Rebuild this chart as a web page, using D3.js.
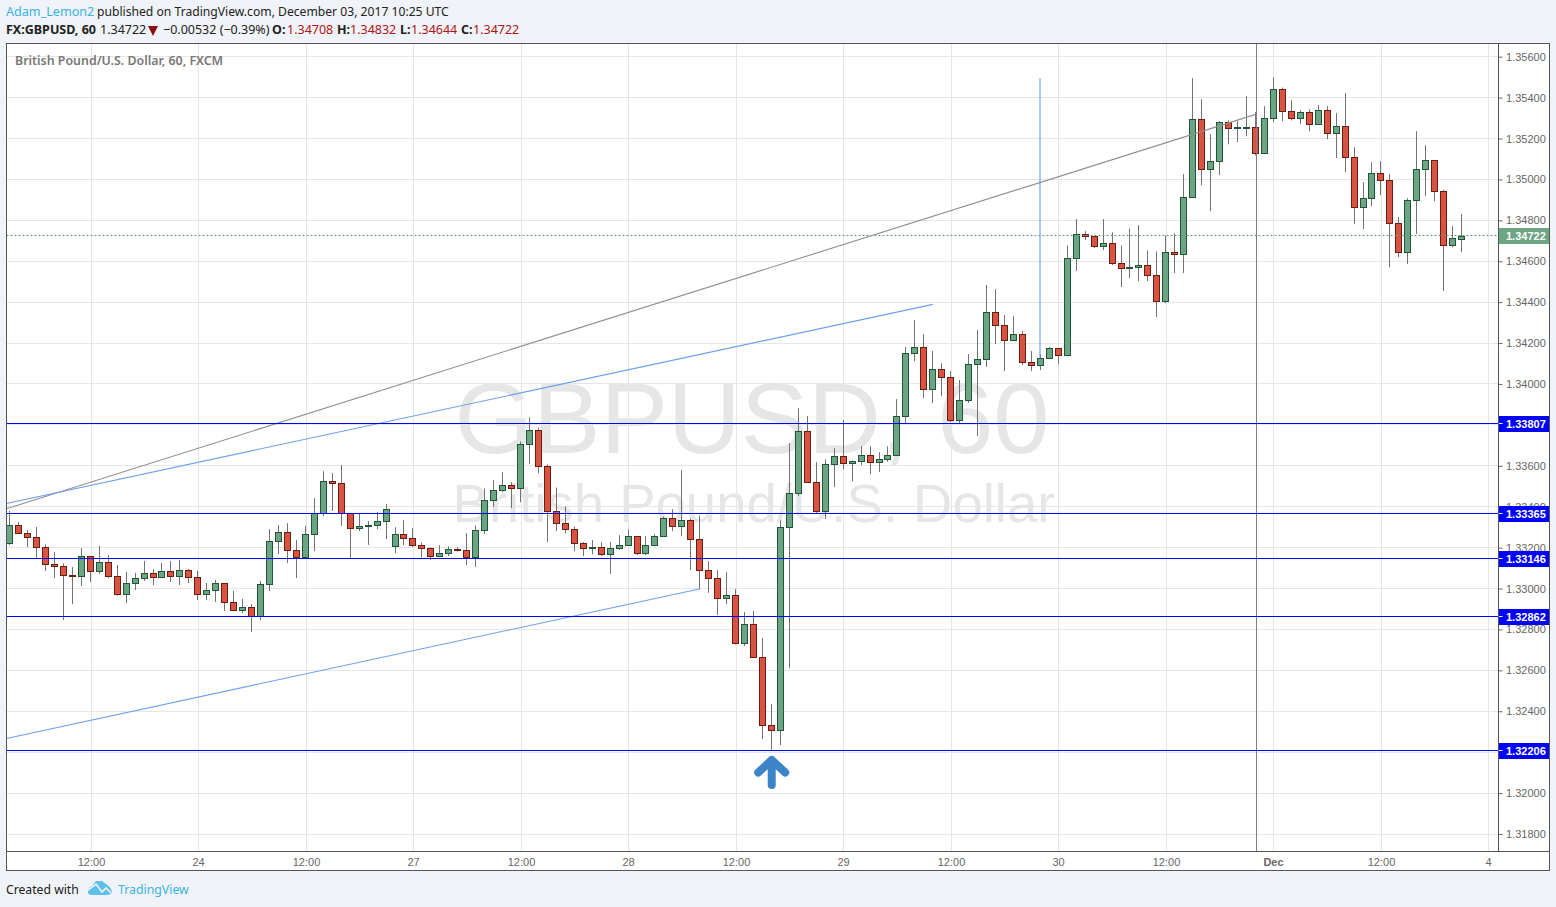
<!DOCTYPE html>
<html><head><meta charset="utf-8">
<script src="https://cdnjs.cloudflare.com/ajax/libs/d3/7.8.5/d3.min.js"></script>
<style>html,body{margin:0;padding:0;background:#f0f3f7;overflow:hidden}svg{display:block}text{font-family:"Liberation Sans",Arial,sans-serif}</style>
</head><body><svg id="c" width="1556" height="907"></svg>
<script>
const highs=[1.33379,1.33325,1.33286,1.33301,1.33216,1.33179,1.33123,1.33105,1.33198,1.33157,
1.33208,1.33164,1.33115,1.33081,1.33076,1.33135,1.33095,1.33125,1.33135,1.33139,
1.33095,1.33086,1.33027,1.33042,1.33025,1.32988,1.32949,1.32924,1.33037,1.33291,
1.33310,1.33320,1.33237,1.33306,1.33442,1.33574,1.33565,1.33604,1.33367,1.33367,
1.33330,1.33374,1.33413,1.33300,1.33334,1.33295,1.33224,1.33201,1.33212,1.33207,
1.33202,1.33271,1.33308,1.33489,1.33530,1.33569,1.33520,1.33719,1.33836,1.33787,
1.33606,1.33494,1.33401,1.33303,1.33227,1.33237,1.33227,1.33227,1.33261,1.33290,
1.33255,1.33256,1.33266,1.33352,1.33388,1.33579,1.33343,1.33357,1.33134,1.33090,
1.33080,1.32997,1.32885,1.32890,1.32758,1.32435,1.33333,1.33711,1.33882,1.33843,
1.33618,1.33631,1.33686,1.33823,1.33626,1.33696,1.33696,1.33667,1.33695,1.33926,
1.34181,1.34313,1.34244,1.34161,1.34102,1.34063,1.34019,1.34146,1.34264,1.34484,
1.34464,1.34337,1.34332,1.34259,1.34161,1.34146,1.34181,1.34174,1.34677,1.34806,
1.34747,1.34724,1.34806,1.34741,1.34677,1.34760,1.34777,1.34653,1.34648,1.34726,
1.34736,1.35026,1.35495,1.35392,1.35221,1.35285,1.35288,1.35285,1.35407,1.35329,
1.35358,1.35500,1.35449,1.35387,1.35339,1.35343,1.35363,1.35358,1.35324,1.35422,
1.35158,1.34987,1.35084,1.35089,1.35026,1.34816,1.34908,1.35236,1.35167,1.35093,
1.34948,1.34772,1.34832];
const lows=[1.33213,1.33270,1.33203,1.33148,1.33086,1.33051,1.32846,1.32924,1.33012,1.33032,
1.33071,1.33051,1.32965,1.32929,1.32993,1.33037,1.33017,1.33053,1.33032,1.33017,
1.33027,1.32944,1.32944,1.32934,1.32890,1.32893,1.32880,1.32788,1.32846,1.32988,
1.33169,1.33125,1.33051,1.33148,1.33183,1.33354,1.33379,1.33306,1.33148,1.33281,
1.33213,1.33291,1.33242,1.33173,1.33212,1.33202,1.33154,1.33139,1.33154,1.33159,
1.33180,1.33115,1.33105,1.33266,1.33398,1.33471,1.33393,1.33422,1.33608,1.33564,
1.33227,1.33281,1.33271,1.33183,1.33159,1.33168,1.33159,1.33071,1.33188,1.33211,
1.33163,1.33163,1.33211,1.33253,1.33281,1.33256,1.33090,1.32996,1.32979,1.32870,
1.32924,1.32727,1.32719,1.32663,1.32264,1.32207,1.32235,1.32611,1.33452,1.33517,
1.33367,1.33339,1.33496,1.33584,1.33525,1.33603,1.33559,1.33569,1.33620,1.33651,
1.33808,1.34112,1.33931,1.33907,1.33941,1.33814,1.33808,1.33907,1.33746,1.34083,
1.34195,1.34063,1.34213,1.34093,1.34063,1.34068,1.34125,1.34097,1.34140,1.34552,
1.34703,1.34664,1.34654,1.34581,1.34474,1.34517,1.34503,1.34503,1.34327,1.34395,
1.34542,1.34542,1.34912,1.34972,1.34845,1.35021,1.35172,1.35182,1.35211,1.35117,
1.35127,1.35280,1.35285,1.35288,1.35270,1.35236,1.35268,1.35197,1.35104,1.35036,
1.34781,1.34757,1.34869,1.34923,1.34571,1.34620,1.34586,1.34733,1.34918,1.34894,
1.34454,1.34669,1.34644];
const opens=[1.33219,1.33309,1.33270,1.33250,1.33201,1.33118,1.33108,1.33065,1.33058,1.33157,
1.33082,1.33128,1.33060,1.32972,1.33024,1.33048,1.33074,1.33053,1.33084,1.33058,
1.33089,1.33055,1.32970,1.32990,1.33025,1.32933,1.32892,1.32908,1.32864,1.33019,
1.33229,1.33275,1.33187,1.33151,1.33263,1.33367,1.33524,1.33514,1.33367,1.33293,
1.33302,1.33307,1.33326,1.33204,1.33264,1.33245,1.33211,1.33196,1.33155,1.33170,
1.33191,1.33186,1.33150,1.33284,1.33431,1.33479,1.33504,1.33489,1.33704,1.33773,
1.33597,1.33375,1.33318,1.33289,1.33220,1.33196,1.33201,1.33167,1.33196,1.33211,
1.33255,1.33172,1.33211,1.33253,1.33343,1.33302,1.33333,1.33240,1.33088,1.33049,
1.32950,1.32966,1.32730,1.32825,1.32663,1.32331,1.32307,1.33299,1.33463,1.33768,
1.33519,1.33377,1.33607,1.33646,1.33611,1.33621,1.33651,1.33616,1.33632,1.33651,
1.33842,1.34150,1.34179,1.33974,1.34071,1.34032,1.33822,1.33920,1.34096,1.34120,
1.34350,1.34286,1.34213,1.34242,1.34106,1.34091,1.34125,1.34174,1.34140,1.34612,
1.34731,1.34721,1.34672,1.34687,1.34589,1.34565,1.34568,1.34579,1.34531,1.34404,
1.34643,1.34633,1.34912,1.35293,1.35049,1.35088,1.35278,1.35249,1.35252,1.35254,
1.35127,1.35298,1.35440,1.35332,1.35298,1.35327,1.35268,1.35337,1.35224,1.35259,
1.35107,1.34863,1.34907,1.35029,1.34995,1.34785,1.34643,1.34897,1.35049,1.35093,
1.34941,1.34677,1.34708];
const closes=[1.33309,1.33270,1.33249,1.33201,1.33118,1.33108,1.33065,1.33060,1.33157,1.33082,
1.33128,1.33058,1.32970,1.33025,1.33050,1.33074,1.33053,1.33084,1.33058,1.33089,
1.33053,1.32970,1.32991,1.33025,1.32931,1.32893,1.32908,1.32864,1.33021,1.33231,
1.33275,1.33185,1.33151,1.33265,1.33367,1.33524,1.33512,1.33367,1.33293,1.33304,
1.33309,1.33328,1.33387,1.33264,1.33243,1.33209,1.33194,1.33155,1.33172,1.33191,
1.33185,1.33150,1.33284,1.33431,1.33479,1.33504,1.33489,1.33704,1.33773,1.33597,
1.33377,1.33318,1.33289,1.33220,1.33196,1.33201,1.33167,1.33196,1.33211,1.33255,
1.33172,1.33211,1.33255,1.33343,1.33302,1.33333,1.33240,1.33088,1.33049,1.32950,
1.32966,1.32732,1.32825,1.32663,1.32331,1.32307,1.33299,1.33465,1.33768,1.33519,
1.33377,1.33607,1.33646,1.33611,1.33621,1.33651,1.33616,1.33631,1.33651,1.33842,
1.34150,1.34179,1.33974,1.34071,1.34032,1.33822,1.33920,1.34096,1.34120,1.34350,
1.34286,1.34213,1.34242,1.34106,1.34091,1.34125,1.34174,1.34140,1.34614,1.34731,
1.34719,1.34672,1.34687,1.34589,1.34563,1.34570,1.34579,1.34531,1.34404,1.34643,
1.34633,1.34912,1.35293,1.35049,1.35088,1.35278,1.35249,1.35254,1.35255,1.35127,
1.35298,1.35440,1.35332,1.35298,1.35327,1.35268,1.35337,1.35224,1.35259,1.35107,
1.34863,1.34907,1.35029,1.34995,1.34785,1.34643,1.34897,1.35049,1.35093,1.34941,
1.34677,1.34711,1.34722];
const priceTicks=[1.318,1.320,1.322,1.324,1.326,1.328,1.330,1.332,1.334,1.336,1.338,1.340,1.342,1.344,1.346,1.348,1.350,1.352,1.354,1.356];
const timeTickBars=[9,21,33,45,57,69,81,93,105,117,129,141,153,165];
const timeTickLabels=["12:00","24","12:00","27","12:00","28","12:00","29","12:00","30","12:00","Dec","12:00","4"];
const levels=[1.33807,1.33365,1.33146,1.32862,1.32206];
const lastPrice=1.34722;
const trendBars=[[-0.35,139.03],[-0.35,102.99],[-0.35,76.95]];
const trendPrices=[[1.3339,1.35318],[1.33416,1.34389],[1.32267,1.32998]];
const trendColors=["#8f8f8f","#6e9ff0","#6e9ff0"];
const blueVerticalBar=115, blueVerticalPrices=[1.35495,1.34127];
const grayVerticalBar=139.1;
const arrowBar=85.03, arrowPrice=1.32103;
const ohlcLabels=["O:","H:","L:","C:"];
const ohlcValues=["1.34708","1.34832","1.34644","1.34722"];

const svg=d3.select("#c");
const L=6.5,R=1498.5,T=43.5,B=851.5,E=1549.5,F=870.5;
const xs=d3.scaleLinear().domain([0,162]).range([9.6,1461.6]);
const gs=d3.scaleLinear().domain([9,165]).range([91.5,1488.5]);
const ys=d3.scaleLinear().domain([1.318,1.354]).range([834,97.6]);
const px=v=>Math.floor(v)+.5;
const barX=i=>px(xs(i));
const gridX=i=>px(gs(i));

svg.append("rect").attr("x",L).attr("y",T).attr("width",E-L).attr("height",F-T).attr("fill","#fff");
const defs=svg.append("defs");
defs.append("clipPath").attr("id","pane").append("rect").attr("x",L).attr("y",T).attr("width",R-L).attr("height",B-T);
const pane=svg.append("g").attr("clip-path","url(#pane)");
// grid
pane.append("g").selectAll("line").data(priceTicks).join("line")
 .attr("x1",L).attr("x2",R).attr("y1",d=>px(ys(d))).attr("y2",d=>px(ys(d))).attr("stroke","#e6e6e6");
pane.append("g").selectAll("line").data(timeTickBars).join("line")
 .attr("x1",gridX).attr("x2",gridX).attr("y1",T).attr("y2",B).attr("stroke","#e6e6e6");
// watermark
pane.append("text").attr("x",752).attr("y",453).attr("text-anchor","middle").attr("font-size",101).attr("fill","#e6e6e6").text("GBPUSD, 60");
pane.append("text").attr("x",754).attr("y",522).attr("text-anchor","middle").attr("font-size",54.5).attr("fill","#e6e6e6").text("British Pound/U.S. Dollar");
// candles
const idx=d3.range(opens.length);
const up=i=>closes[i]>=opens[i];
pane.append("g").selectAll("line").data(idx).join("line")
 .attr("x1",barX).attr("x2",barX).attr("y1",i=>ys(highs[i])).attr("y2",i=>ys(lows[i])).attr("stroke","#737375");
pane.append("g").selectAll("rect").data(idx).join("rect")
 .attr("x",i=>barX(i)-3).attr("width",6)
 .attr("y",i=>px(ys(Math.max(opens[i],closes[i]))))
 .attr("height",i=>Math.max(1,Math.round(ys(Math.min(opens[i],closes[i]))-ys(Math.max(opens[i],closes[i])))))
 .attr("fill",i=>up(i)?"#6ba583":"#d75442").attr("stroke",i=>up(i)?"#225437":"#6b1c13");
// last price dotted
const lastY=px(ys(lastPrice)-.5);
pane.append("line").attr("x1",L).attr("x2",R).attr("y1",lastY).attr("y2",lastY).attr("stroke","#5f9a7a").attr("stroke-dasharray","2 2");
// trends
pane.append("g").selectAll("line").data(trendBars).join("line")
 .attr("x1",d=>xs(d[0])).attr("x2",d=>xs(d[1])).attr("y1",(d,i)=>ys(trendPrices[i][0])).attr("y2",(d,i)=>ys(trendPrices[i][1]))
 .attr("stroke",(d,i)=>trendColors[i]).attr("stroke-width",1.1);
const bvx=Math.floor(xs(blueVerticalBar));
pane.append("line").attr("x1",bvx).attr("x2",bvx).attr("y1",ys(blueVerticalPrices[0])).attr("y2",ys(blueVerticalPrices[1])).attr("stroke","#5a90f0");
pane.append("line").attr("x1",px(xs(grayVerticalBar))).attr("x2",px(xs(grayVerticalBar))).attr("y1",T).attr("y2",B).attr("stroke","#808080");
// levels
pane.append("g").selectAll("line").data(levels).join("line")
 .attr("x1",L).attr("x2",R).attr("y1",d=>px(ys(d))).attr("y2",d=>px(ys(d))).attr("stroke","#0000ff");
// arrow
const ax=xs(arrowBar), ay=ys(arrowPrice);
svg.append("path").attr("d",`M${ax-13.5},${ay+.5}L${ax},${ay-12}L${ax+13.5},${ay+.5}M${ax},${ay-12}V${ay+13}`)
 .attr("fill","none").attr("stroke","#3d85c6").attr("stroke-width",8).attr("stroke-linecap","round").attr("stroke-linejoin","round");
// right axis
const yAxis=d3.axisRight(ys).tickValues(priceTicks).tickFormat(d3.format(".5f")).tickSize(4).tickPadding(3);
const ga=svg.append("g").attr("transform",`translate(${R},0)`).call(yAxis);
ga.select(".domain").remove();
ga.selectAll("line").attr("stroke","#666");
ga.selectAll("text").attr("font-size",11).attr("fill","#666").attr("font-family",'"Liberation Sans",Arial,sans-serif').attr("x",7.5);
// bottom axis
svg.append("g").selectAll("text").data(timeTickBars).join("text")
 .attr("x",gridX).attr("y",866).attr("text-anchor","middle").attr("font-size",11).attr("fill","#666")
 .attr("font-weight",(d,i)=>timeTickLabels[i]==="Dec"?"bold":null).text((d,i)=>timeTickLabels[i]);
// labels
const fmt=d3.format(".5f");
const lab=svg.append("g").selectAll("g").data(levels).join("g");
const boxMid=d=>Math.round(ys(d)+.5);
lab.append("rect").attr("x",R).attr("width",E-R).attr("y",d=>boxMid(d)-8).attr("height",16).attr("fill","#0000ff");
lab.append("line").attr("x1",R).attr("x2",R+4).attr("y1",d=>px(ys(d))).attr("y2",d=>px(ys(d))).attr("stroke","#fff");
lab.append("text").attr("x",R+7.5).attr("y",d=>boxMid(d)+4).attr("font-size",11).attr("font-weight","bold").attr("fill","#fff").text(fmt);
const lp=svg.append("g");
lp.append("rect").attr("x",R).attr("width",E-R).attr("y",Math.round(ys(lastPrice))-8).attr("height",16).attr("fill","#6ba583");
lp.append("text").attr("x",R+7.5).attr("y",Math.round(ys(lastPrice))+4).attr("font-size",11).attr("font-weight","bold").attr("fill","#fff").text(fmt(lastPrice));
// frame
const fc="#555";
svg.append("rect").attr("x",L).attr("y",T).attr("width",E-L).attr("height",F-T).attr("fill","none").attr("stroke",fc);
svg.append("line").attr("x1",R).attr("x2",R).attr("y1",T).attr("y2",B).attr("stroke",fc);
svg.append("line").attr("x1",L).attr("x2",E).attr("y1",B).attr("y2",B).attr("stroke",fc);
// header
const HF='"Noto Sans","Open Sans",sans-serif';
const t=(x,y,s,o={})=>svg.append("text").attr("x",x).attr("y",y).attr("font-size",o.size||12.5).attr("fill",o.fill||"#222").attr("font-weight",o.w||null).style("font-family",HF).text(s);
t(6,16,"Adam_Lemon2",{fill:"#3bb3e4",size:12.6});
t(97,16,"published on TradingView.com, December 03, 2017 10:25 UTC",{size:12.15});
t(6,34,"FX:GBPUSD, 60",{w:"bold"});
t(100,34,"1.34722");
svg.append("path").attr("d","M148,26h10l-5,10z").attr("fill","#8b0f0f");
t(163,34,"\u22120.00532 (\u22120.39%)");
[272,337,400,461].forEach((x,i)=>t(x,34,ohlcLabels[i],{w:"bold"}));
[287,350,411,473].forEach((x,i)=>t(x,34,ohlcValues[i],{fill:"#b01515"}));
t(15,65,"British Pound/U.S. Dollar, 60, FXCM",{size:12.4,fill:"#777",w:"600"});
// footer
t(6,894,"Created with",{size:12.2});
t(118,894,"TradingView",{size:12.3,fill:"#3bb3e4"});
svg.append("path").attr("d","M88,892 Q88,887 92,886 L96,881 L102,881 L106,884 Q111,887 112,892 Q111,895 107,895 L92,895 Q88,895 88,892Z").attr("fill","#5cc0e8");
svg.append("path").attr("d","M88,890 L96,884 L102,892 L106,888 L111,893").attr("fill","none").attr("stroke","#f0f3f7").attr("stroke-width",1.6);
</script></body></html>
